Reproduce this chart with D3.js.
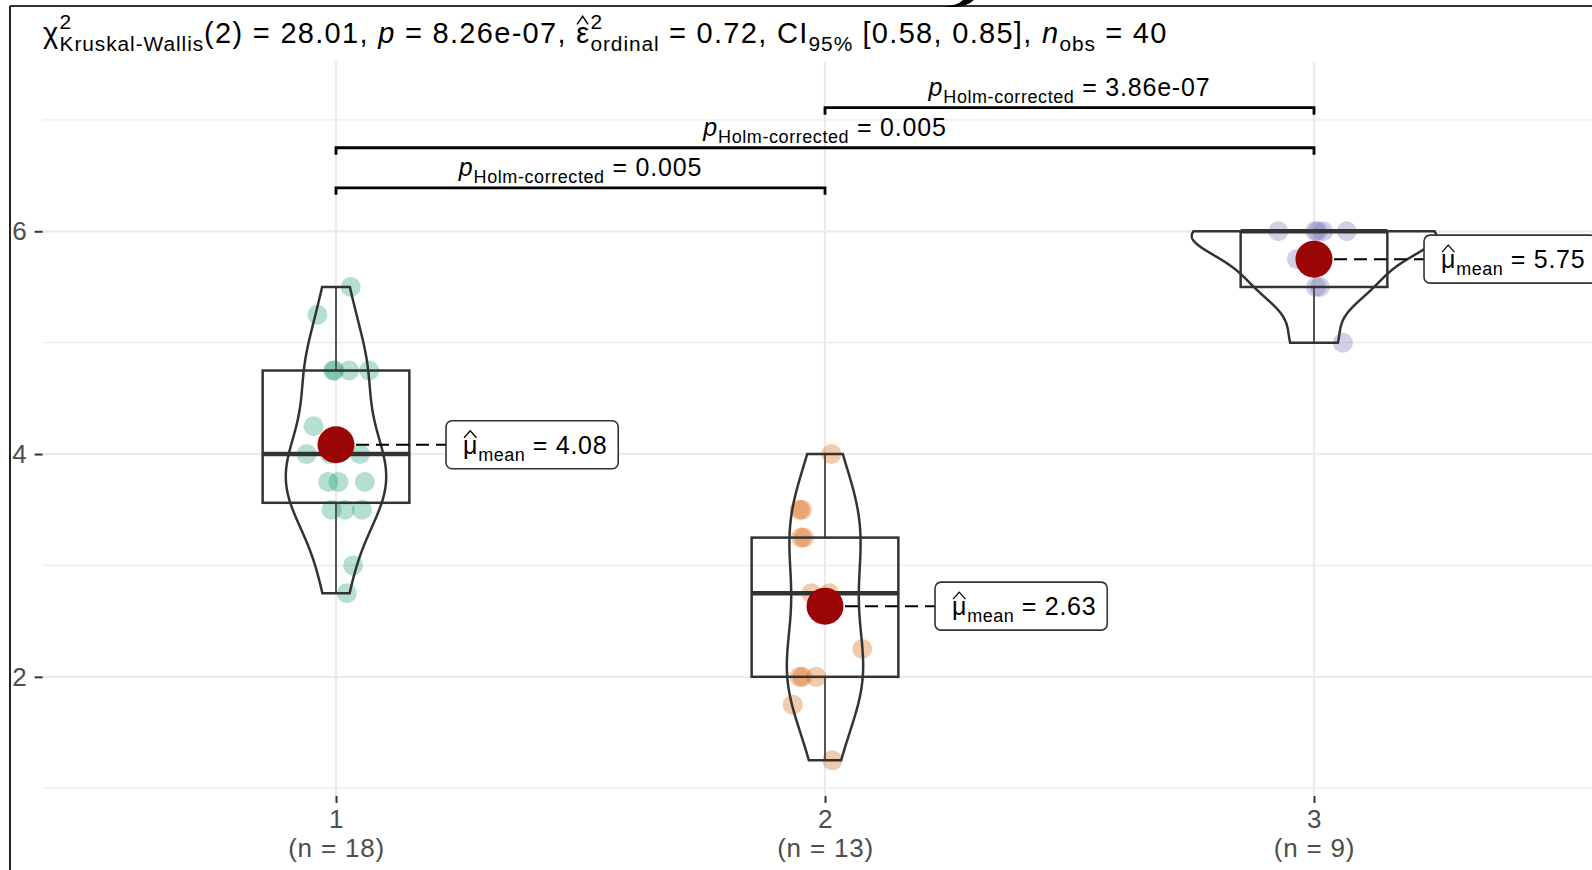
<!DOCTYPE html>
<html>
<head>
<meta charset="utf-8">
<script src="https://cdn.jsdelivr.net/npm/d3@7"></script>
<style>
  body { margin: 0; background: #fff; }
  text { font-family: "Liberation Sans", Arial, sans-serif; white-space: pre; }
</style>
</head>
<body>
<svg id="chart" width="1592" height="870"></svg>
<script>
// groups and sample sizes
var groups = ['1', '2', '3'];
var groupN = ['(n = 18)', '(n = 13)', '(n = 9)'];
var groupColors = ['#1B9E77', '#D95F02', '#7570B3'];

var values1 = [2.75, 3, 3.5, 3.5, 3.5, 3.75, 3.75, 3.75, 4, 4, 4, 4.25, 4.75, 4.75, 4.75, 4.75, 5.25, 5.5];
var values2 = [1.25, 1.75, 2, 2, 2, 2.25, 2.75, 2.75, 3.25, 3.25, 3.5, 3.5, 4];
var values3 = [5, 5.5, 5.5, 5.75, 6, 6, 6, 6, 6];
// horizontal jitter of each point, in x units (fraction of one group step)
var jitter1 = [0.022, 0.035, -0.009, 0.018, 0.053, -0.016, 0.005, 0.059, -0.060, -0.012, 0.049, -0.046, -0.003, -0.006, 0.027, 0.068, -0.038, 0.030];
var jitter2 = [0.015, -0.066, -0.052, -0.018, -0.046, 0.076, -0.028, 0.009, -0.049, -0.043, -0.052, -0.047, 0.013];
var jitter3 = [0.059, 0.012, 0.004, -0.035, -0.073, 0.002, 0.008, 0.019, 0.067];

// pairwise comparisons
var pairs = [['1', '2'], ['1', '3'], ['2', '3']];
var pairP = ['0.005', '0.005', '3.86e-07'];
var pairLevel = [6.39, 6.75, 7.11];

// Kruskal-Wallis results for the subtitle
var kwDf = '2', kwStat = '28.01', kwP = '8.26e-07', kwEps = '0.72', kwCI = '[0.58, 0.85]', kwN = '40';

var yMajor = [2, 4, 6];
var yMinor = [1, 3, 5, 7];

var allValues = [values1, values2, values3];
var allJitter = [jitter1, jitter2, jitter3];

var svg = d3.select('#chart');

var xScale = d3.scalePoint().domain(groups).range([336, 1314]);
var step = xScale.step();
var yScale = d3.scaleLinear().domain([0.93, 7.52]).range([796, 62]);
var panelL = xScale('1') - 0.6 * step, panelR = xScale('3') + 0.6 * step;

// rich text: sub/superscripts, italics, hats
function rich(g, parts, size, ls) {
  var x = 0;
  ls = ls || 0;
  parts.forEach(function(p) {
    if (p.stack) {
      var a = g.append('text').attr('x', x).attr('y', -size * 0.5).style('font-size', size * 0.72 + 'px')
        .style('letter-spacing', ls * 0.72 + 'px').text(p.stack[0]);
      var b = g.append('text').attr('x', x).attr('y', size * 0.29).style('font-size', size * 0.72 + 'px')
        .style('letter-spacing', ls * 0.72 + 'px').text(p.stack[1]);
      x += Math.max(a.node().getComputedTextLength(), b.node().getComputedTextLength());
      return;
    }
    var fs = p.sub ? size * 0.72 : size;
    var t = g.append('text').attr('x', x).attr('y', p.sub ? size * 0.29 : 0)
      .style('font-size', fs + 'px')
      .style('letter-spacing', (p.sub ? ls * 0.72 : ls) + 'px')
      .style('font-style', p.it ? 'italic' : null)
      .text(p.t);
    var w = t.node().getComputedTextLength();
    if (p.hat) {
      g.append('path')
        .attr('d', 'M' + (x + 1) + ',' + (-size * 0.64) + 'L' + (x + (w - ls) / 2) + ',' + (-size * 0.92) + 'L' + (x + w - ls - 1) + ',' + (-size * 0.64))
        .attr('fill', 'none').attr('stroke', '#000').attr('stroke-width', size / 20);
    }
    x += w;
  });
  return x;
}

// grid
var grid = svg.append('g');
grid.selectAll('.minor').data(yMinor).enter().append('line')
  .attr('x1', panelL).attr('x2', panelR)
  .attr('y1', function(d) { return yScale(d); }).attr('y2', function(d) { return yScale(d); })
  .attr('stroke', '#EBEBEB').attr('stroke-width', 1.2);
grid.selectAll('.major').data(yMajor).enter().append('line')
  .attr('x1', panelL).attr('x2', panelR)
  .attr('y1', function(d) { return yScale(d); }).attr('y2', function(d) { return yScale(d); })
  .attr('stroke', '#EBEBEB').attr('stroke-width', 2.2);
grid.selectAll('.vmajor').data(groups).enter().append('line')
  .attr('x1', function(d) { return xScale(d); }).attr('x2', function(d) { return xScale(d); })
  .attr('y1', yScale.range()[1]).attr('y2', yScale.range()[0])
  .attr('stroke', '#EBEBEB').attr('stroke-width', 2.2);

// jittered points
groups.forEach(function(gName, i) {
  var pts = allValues[i].map(function(v, j) { return {v: v, j: allJitter[i][j]}; });
  svg.append('g').selectAll('circle').data(pts).enter().append('circle')
    .attr('cx', function(d) { return xScale(gName) + d.j * step; })
    .attr('cy', function(d) { return yScale(d.v); })
    .attr('r', 10)
    .attr('fill', groupColors[i]).attr('fill-opacity', 0.33);
});

// boxplots
groups.forEach(function(gName, i) {
  var s = allValues[i].slice().sort(d3.ascending);
  var q1 = d3.quantile(s, 0.25), med = d3.quantile(s, 0.5), q3 = d3.quantile(s, 0.75);
  var iqr = q3 - q1;
  var lo = d3.min(s.filter(function(v) { return v >= q1 - 1.5 * iqr; }));
  var hi = d3.max(s.filter(function(v) { return v <= q3 + 1.5 * iqr; }));
  var cx = xScale(gName), hw = 0.15 * step;
  var g = svg.append('g');
  g.append('line').attr('x1', cx).attr('x2', cx).attr('y1', yScale(q3)).attr('y2', yScale(hi))
    .attr('stroke', '#555').attr('stroke-width', 2);
  g.append('line').attr('x1', cx).attr('x2', cx).attr('y1', yScale(q1)).attr('y2', yScale(lo))
    .attr('stroke', '#555').attr('stroke-width', 2);
  g.append('rect').attr('x', cx - hw).attr('width', 2 * hw)
    .attr('y', yScale(q3)).attr('height', yScale(q1) - yScale(q3))
    .attr('fill', 'none').attr('stroke', '#333').attr('stroke-width', 2.5);
  g.append('line').attr('x1', cx - hw).attr('x2', cx + hw).attr('y1', yScale(med)).attr('y2', yScale(med))
    .attr('stroke', '#333').attr('stroke-width', 4.5);
});

// violins (gaussian kde, bw.nrd0, trimmed, scaled by area)
function kde(vals) {
  var s = vals.slice().sort(d3.ascending), n = s.length;
  var sd = d3.deviation(s), iqr = d3.quantile(s, 0.75) - d3.quantile(s, 0.25);
  var bw = 0.9 * Math.min(sd, iqr / 1.34) * Math.pow(n, -0.2);
  var mn = s[0], mx = s[n - 1];
  return d3.range(512).map(function(k) {
    var v = mn + (mx - mn) * k / 511;
    var d = d3.sum(s, function(x) { var z = (v - x) / bw; return Math.exp(-0.5 * z * z); }) / (n * bw * Math.sqrt(2 * Math.PI));
    return [v, d];
  });
}
var dens = allValues.map(kde);
var maxD = d3.max(dens, function(a) { return d3.max(a, function(d) { return d[1]; }); });
groups.forEach(function(gName, i) {
  var cx = xScale(gName);
  var area = d3.area()
    .y(function(d) { return yScale(d[0]); })
    .x0(function(d) { return cx - d[1] / maxD * 0.25 * step; })
    .x1(function(d) { return cx + d[1] / maxD * 0.25 * step; });
  svg.append('path').datum(dens[i]).attr('d', area)
    .attr('fill', 'none').attr('stroke', '#333').attr('stroke-width', 2.5);
});

// means with labels
groups.forEach(function(gName, i) {
  var m = d3.mean(allValues[i]);
  var cx = xScale(gName), cy = yScale(m);
  var lx = cx + 0.225 * step;
  svg.append('line').attr('x1', cx).attr('x2', lx).attr('y1', cy).attr('y2', cy)
    .attr('stroke', '#000').attr('stroke-width', 2).attr('stroke-dasharray', '13,7');
  svg.append('circle').attr('cx', cx).attr('cy', cy).attr('r', 18.5).attr('fill', '#9A0606');
  var lab = svg.append('g');
  var rect = lab.append('rect');
  var tg = lab.append('g').attr('transform', 'translate(' + (lx + 17) + ',' + (cy + 9) + ')');
  var w = rich(tg, [{t: 'μ', hat: true}, {t: 'mean', sub: true}, {t: ' = ' + m.toFixed(2)}], 25, 0.7);
  rect.attr('x', lx).attr('y', cy - 24).attr('width', w + 28).attr('height', 48)
    .attr('rx', 6).attr('fill', '#fff').attr('stroke', '#333').attr('stroke-width', 1.6);
});

// pairwise brackets
pairs.forEach(function(pr, i) {
  var x1 = xScale(pr[0]), x2 = xScale(pr[1]), y = yScale(pairLevel[i]);
  svg.append('path')
    .attr('d', 'M' + x1 + ',' + (y + 7) + 'V' + y + 'H' + x2 + 'V' + (y + 7))
    .attr('fill', 'none').attr('stroke', '#000').attr('stroke-width', 2.8);
  var g = svg.append('g');
  var w = rich(g, [{t: 'p', it: true}, {t: 'Holm-corrected', sub: true}, {t: ' = ' + pairP[i]}], 25, 0.8);
  g.attr('transform', 'translate(' + ((x1 + x2) / 2 - w / 2) + ',' + (y - 12) + ')');
});

// axes
var yAxis = svg.append('g').attr('transform', 'translate(' + panelL + ',0)')
  .call(d3.axisLeft(yScale).tickValues(yMajor).tickFormat(d3.format('d')).tickSize(8).tickPadding(8));
yAxis.select('.domain').remove();
yAxis.selectAll('line').attr('stroke', '#333').attr('stroke-width', 2);
yAxis.selectAll('text').style('font-size', '26px').attr('fill', '#4D4D4D')
  .style('font-family', '"Liberation Sans", Arial, sans-serif');

var xAxis = svg.append('g').attr('transform', 'translate(0,' + yScale.range()[0] + ')')
  .call(d3.axisBottom(xScale).tickSize(7).tickPadding(4));
xAxis.select('.domain').remove();
xAxis.selectAll('line').attr('stroke', '#333').attr('stroke-width', 2);
xAxis.selectAll('text').text(null).attr('dy', null).attr('y', 0)
  .style('font-size', '26px').style('letter-spacing', '0.8px').attr('fill', '#4D4D4D')
  .style('font-family', '"Liberation Sans", Arial, sans-serif')
  .each(function(d, i) {
    var t = d3.select(this);
    t.append('tspan').attr('x', 0).attr('y', 32).text(d);
    t.append('tspan').attr('x', 0).attr('y', 61).text(groupN[i]);
  });

// subtitle with test statistics
var title = svg.append('g').attr('transform', 'translate(43,43)');
rich(title, [
  {t: 'χ'}, {stack: ['2', 'Kruskal-Wallis']}, {t: '(' + kwDf + ') = ' + kwStat + ', '},
  {t: 'p', it: true}, {t: ' = ' + kwP + ', '},
  {t: 'ε', hat: true}, {stack: ['2', 'ordinal']}, {t: ' = ' + kwEps + ', CI'},
  {t: '95%', sub: true}, {t: ' ' + kwCI + ', '},
  {t: 'n', it: true}, {t: 'obs', sub: true}, {t: ' = ' + kwN}
], 29, 1.3);

// frame of the cropped screenshot
svg.append('line').attr('x1', 10).attr('x2', 1592).attr('y1', 6).attr('y2', 6).attr('stroke', '#333').attr('stroke-width', 2);
svg.append('line').attr('x1', 10).attr('x2', 10).attr('y1', 6).attr('y2', 870).attr('stroke', '#222').attr('stroke-width', 2);
svg.append('path').attr('d', 'M941,6 Q956,7 963,0 L974,0 Q966,8 949,7 Z').attr('fill', '#000');
</script>
</body>
</html>
